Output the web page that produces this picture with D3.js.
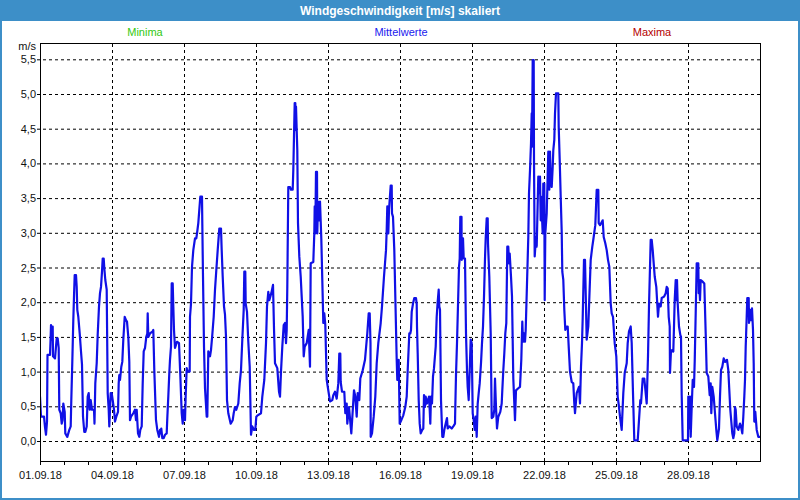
<!DOCTYPE html>
<html><head><meta charset="utf-8">
<script src="https://cdn.jsdelivr.net/npm/d3@7"></script>
<style>html,body{margin:0;padding:0;background:#fff;}svg{display:block}</style>
</head><body>
<svg id="chart" width="800" height="500"></svg>
<script>
// ---------- data ----------
const chartTitle = "Windgeschwindigkeit [m/s] skaliert";
const legendLabels = ["Minima", "Mittelwerte", "Maxima"];
const unitLabel = "m/s";
const yTickValues = [0, 0.5, 1, 1.5, 2, 2.5, 3, 3.5, 4, 4.5, 5, 5.5];
const dateTickLabels = ["01.09.18","04.09.18","07.09.18","10.09.18","13.09.18","16.09.18","19.09.18","22.09.18","25.09.18","28.09.18"];
const seriesStart = "01.09.18";
const seriesHours = 720;
// readings: [hours since 01.09.18 00:00, wind speed m/s]
const period1 = [[0,0.64],[1,0.35],[4,0.35],[5,0.2],[6,0.09],[7,0.28],[7.5,1.24],[10,1.24],[10.5,1.43],[11,1.67],[12,1.46],[12.7,1.65],[13,1.22],[15,1.19],[16.7,1.48],[17.7,1.48],[18.7,1.34],[19.3,0.45],[20.7,0.40],[21.7,0.25],[22.5,0.30],[23.3,0.54],[24.7,0.42],[25.3,0.11],[27.3,0.06],[29.3,0.16],[30.7,0.21],[31.3,0.59],[32.3,1.14],[33.3,1.74],[34,2.08],[34.7,2.39],[36,2.39],[36.7,2.22],[37.3,1.89],[38.3,1.79],[39.7,1.55],[41,1.29],[42,1.10],[43,0.35],[44.3,0.13],[45.3,0.13],[46.7,0.21],[47.7,0.64],[48.7,0.69],[49.7,0.45],[50.7,0.59],[52,0.45],[54,0.45],[54.5,0.25],[55.3,0.83],[56.7,1.12],[57.7,1.53],[59,1.94],[60,2.13],[61,2.22],[62,2.44],[62.7,2.63],[63.7,2.63],[64.3,2.49],[65.3,2.32],[66.7,2.18],[67.7,0.69],[68.7,0.45],[69.3,0.21],[70.7,0.69],[71.7,0.69],[72.7,0.59],[74,0.45],[75,0.28],[76.3,0.35],[78,0.42],[78.7,0.83],[79.3,0.95],[80,0.88],[81.3,1.07],[82.3,1.14],[83.3,1.46],[84.7,1.79],[86,1.74],[87,1.72],[88.3,1.50],[89.3,1.14],[90,0.30],[91,0.35],[93.3,0.40],[95,0.45],[96,0.30],[96.7,0.45],[98,0.11],[99.3,0.06],[100.3,0.16],[101.7,0.21],[102.7,0.83],[103.7,1.29],[105,1.34],[106.3,1.50],[107.3,1.55],[107.7,1.84],[108.3,1.50],[110,1.55],[112.7,1.58],[113.3,1.60],[114.3,1.02],[116,0.30],[117.3,0.16],[119,0.06],[120,0.16]];
const period2 = [[120.7,0.11],[121.3,0.18],[122.3,0.04],[123.7,0.04],[125,0.09],[126.7,0.11],[127.3,0.33],[128.3,0.64],[129.3,0.98],[130,1.17],[131,1.36],[131.7,2.27],[132.7,2.27],[133.3,1.94],[134,1.60],[135,1.34],[137,1.43],[139,1.41],[140.3,0.95],[141.7,0.40],[142.7,0.25],[143.7,0.45],[145,0.30],[145.7,0.66],[146.7,1.05],[147.7,1.00],[149.7,1.00],[150,1.79],[151,1.98],[152,2.51],[153.3,2.75],[155,2.92],[156.3,2.92],[157,2.99],[158.3,3.14],[159.3,3.33],[160.3,3.52],[162,3.52],[162.3,3.14],[163,2.37],[164,1.36],[165,0.76],[166.7,0.35],[167.3,0.35],[168.3,1.29],[170,1.22],[171,1.31],[172.3,1.53],[173.7,1.79],[175,2.18],[176.3,2.46],[177.7,2.75],[179.3,3.06],[181,3.06],[181.7,2.75],[182.7,2.37],[184,1.94],[185,1.82],[186,1.50],[187,0.59],[188.3,0.40],[190.7,0.25],[192.7,0.30],[193.7,0.40],[195,0.49],[196.3,0.45],[198.3,0.54],[199.7,0.83],[201,1.02],[202.3,1.46],[203.7,1.89],[204.3,2.44],[205.3,2.44],[205.7,1.98],[207,1.86],[208.3,1.43],[209.7,1.07],[211,0.09],[212.3,0.21],[214,0.16],[215.3,0.16],[216.3,0.35],[217.7,0.37],[221,0.40],[222.3,0.64],[224.3,0.88],[226,1.41],[227,1.94],[228.3,2.15],[229.3,2.03],[231.3,2.13],[233,2.25],[234,1.62],[235,1.12],[237.3,1.05],[239,0.71],[240,0.64],[241,1.00],[242.3,1.36],[243.7,1.67],[245,1.70]];
const period3 = [[246,1.41],[246.7,1.60],[247.3,2.22],[248.3,3.66],[250,3.66],[251,3.62],[252.7,3.62],[253.3,3.90],[254,4.39],[254.7,4.87],[255.3,4.87],[255.7,4.48],[256,4.82],[257.3,4.19],[258,3.14],[259.3,2.66],[260.7,2.37],[261.7,2.08],[262.7,1.79],[263.7,1.22],[264.7,1.36],[266.7,1.41],[268.7,1.60],[270,1.07],[270.7,2.56],[273.3,2.58],[274.3,2.99],[274.7,3.38],[275.3,2.99],[276,3.88],[277,3.88],[277.3,2.99],[278,3.45],[279.3,3.18],[280,3.45],[281.3,2.92],[282.7,2.08],[283.3,1.70],[284.3,1.84],[285.3,1.67],[286.7,0.88],[288.3,0.73],[290,0.57],[292.3,0.59],[293.3,0.66],[295,0.71],[296.7,0.61],[298.3,0.83],[299.3,1.26],[300.3,1.26],[300.7,0.85],[302,0.71],[304.3,0.71],[305.3,0.40],[306.7,0.54],[307.3,0.25],[309,0.49],[311.3,0.11],[314,0.73],[315.3,0.64],[316.7,0.35],[317.7,0.69],[319.3,0.59],[320.3,0.90],[322.7,1.02],[325,1.17],[327.3,1.55],[328.7,1.84],[329.7,1.84],[330.5,1.41],[330.7,0.06],[332,0.11],[333.7,0.35],[335.3,0.64],[336.7,1.12],[338.3,1.41],[340.7,1.70],[342,1.94],[344,2.37],[346,2.75],[346.7,3.04],[347.3,3.38],[348.3,2.99],[349,3.33],[350.7,3.68],[351.7,3.68],[352,3.28],[353,3.23],[354.3,2.75],[356.7,1.17],[357.3,0.88],[358.7,1.17],[359.7,0.25],[361.3,0.30],[363.3,0.37],[365.3,0.49],[366.7,0.64],[367.7,1.02],[369.3,1.55]];
const period4 = [[370.3,1.55],[371,1.60],[371.7,1.86],[373,1.98],[374.3,2.06],[376,2.06],[376.7,1.98],[377,1.65],[377.7,1.26],[378.7,0.59],[379.7,0.25],[380.7,0.11],[382.3,0.16],[383.3,0.18],[384,0.66],[385,0.49],[385.7,0.64],[387,0.54],[389,0.64],[389.7,0.45],[390.3,0.25],[391,0.64],[392,0.54],[393,0.93],[394,1.05],[395.7,1.36],[396.7,1.79],[397.7,2.01],[398.7,2.18],[399.3,1.94],[400,1.89],[401,0.59],[402.3,0.06],[403.3,0.06],[404.3,0.16],[405,0.21],[407,0.33],[407.7,0.18],[409.3,0.21],[411.7,0.18],[413.3,0.21],[415,0.25],[415.3,0.49],[416,0.95],[417,1.41],[418,1.96],[419,2.51],[419.7,2.63],[420.3,3.23],[421.5,3.23],[421.7,2.61],[423,2.92],[423.7,2.63],[425,2.63],[426,1.55],[427,1.02],[427.7,0.78],[428.7,0.59],[429.7,1.02],[430.7,1.46],[431.7,1.41],[432.7,0.40],[433.7,0.30],[434.7,0.16],[435.7,0.35],[436.7,0.06],[437.7,0.54],[438.7,0.69],[439.7,0.83],[441,1.12],[442,1.41],[443,1.65],[444,2.08],[445,2.63],[445.7,2.92],[446.7,3.21],[447.7,3.21],[448,2.85],[449.3,2.37],[450.7,1.55],[451.7,0.33],[453.3,0.35],[454.3,0.45],[455,0.90],[456,0.49],[457,0.18],[458.3,0.35],[460.3,0.42],[461.7,0.54],[462.3,0.73],[463.3,1.02],[464.3,1.26],[465.3,1.55],[466.3,1.70],[467.3,2.80],[468.3,2.80],[469,2.56],[469.7,2.70],[471,2.37],[472,2.08],[473.3,0.90],[475,0.30],[476,0.73],[478.3,0.76],[480,0.78],[481.3,1.17],[482.3,1.72],[483,1.43],[484,1.55],[485,1.43],[485.7,1.60],[487,2.27],[488.3,2.94],[489,3.57],[490,3.90],[491,4.29],[491.7,4.72],[492,4.24],[492.7,5.49],[493.7,5.49],[494,4.05]];
const period5 = [[494.7,2.66],[496,2.94],[496.7,2.80],[498.3,3.81],[499.3,3.57],[500,3.81],[500.7,3.18],[501,3.52],[501.7,3.33],[502.7,2.99],[503.3,3.71],[504.3,3.71],[504.7,2.03],[505.3,2.99],[506.7,3.28],[508.3,4.17],[509.3,3.62],[510,4.17],[510.7,3.76],[511.7,3.66],[512.7,3.95],[513.3,4.19],[514.3,4.34],[515,4.72],[516,5.01],[518.3,5.01],[518.7,4.53],[519.7,4.05],[520.7,3.52],[521.7,3.02],[522.3,2.44],[523.3,2.32],[524.3,1.89],[525.3,1.60],[526.7,1.65],[527.7,1.65],[528.7,1.36],[530,1.00],[531.7,0.85],[533.3,0.83],[534.3,0.54],[535,0.40],[536.7,0.69],[539,0.78],[540,0.54],[541,1.07],[542,1.41],[542.7,1.77],[544,2.61],[545,2.61],[546.7,1.46],[548.3,1.65],[550.7,2.61],[552.3,2.80],[553.3,2.90],[555.3,3.11],[556.7,3.62],[558.3,3.62],[558.7,3.14],[560,3.11],[562.7,3.18],[563.7,2.94],[565.3,2.85],[566.7,2.75],[568,2.61],[569.3,2.51],[570.7,1.98],[571.7,1.84],[573,1.79],[574.7,1.41],[576.3,1.22],[577.7,0.64],[579,0.49],[580,0.35],[581.7,0.16],[583.3,0.69],[584.7,0.98],[586.7,1.12],[587.7,1.41],[589,1.58],[590.7,1.65],[591.7,1.41],[593,0.69],[594.3,0.01],[597.7,0.01],[599,0.30],[600.3,0.59],[601,0.54],[602.7,0.90],[604.3,0.90],[606.7,0.54],[608,1.22],[609,1.94],[610.7,2.90],[611.7,2.90],[612.7,2.75],[613.7,2.56],[614.7,2.37],[616.3,2.22],[618,1.79],[619,1.98],[620,1.94]];
const period6 = [[620.7,1.94],[621.7,2.06],[624,2.08],[625.7,2.13],[626.7,2.22],[627.7,2.20],[628.7,1.79],[629.7,1.65],[630,0.98],[631,1.31],[633.3,1.29],[634,1.65],[634.7,2.03],[635.7,2.32],[636.3,2.03],[637,2.32],[637.7,1.98],[639,1.65],[640.3,1.53],[641,1.50],[641.7,0.66],[642.7,0.01],[648,0.01],[648.3,0.64],[649.3,0.18],[650,0.64],[650.7,0.06],[651.7,0.49],[652.7,0.88],[654,0.78],[654.7,1.14],[655.7,1.84],[656.7,2.56],[658.3,2.56],[658.7,2.13],[659,2.32],[660,2.03],[660.7,2.32],[662.3,2.30],[664.3,2.27],[665.7,1.55],[666.7,0.98],[668.3,0.93],[669.7,0.66],[670.7,0.83],[671.3,0.40],[672.3,0.78],[673.7,0.64],[675,0.40],[676.3,0.16],[677.3,0.01],[679,0.18],[680,0.64],[681,1.02],[682.3,1.07],[683.7,1.19],[685,1.14],[687,1.17],[688.3,1.02],[690.3,0.45],[692.3,0.11],[693.3,0.04],[694.3,0.11],[695,0.49],[695.7,0.45],[696.7,0.21],[698.3,0.16],[700,0.25],[701,0.21],[702.3,0.11],[703.3,0.35],[704.3,0.64],[705,0.88],[705.7,1.36],[706.7,1.79],[707.3,2.06],[708.7,2.06],[709,1.70],[710,1.89],[711,1.74],[712,1.91],[713,1.60],[713.7,1.12],[714.3,0.28],[715.3,0.42],[716.7,0.16],[718.3,0.06],[720,0.06]];

// ---------- layout / style ----------
const W = 800, H = 500;
const frameBlue = "#3d8fc8";
const legendColors = ["#33c811", "#2020ee", "#b40000"];
const legendX = [145, 401, 652];
const plot = {left: 40, right: 760, top: 43, bottom: 461};
const font = "'Liberation Sans', Arial, sans-serif";

const svg = d3.select("#chart");
svg.append("rect").attr("x",0).attr("y",0).attr("width",W).attr("height",H).attr("fill","#fff");

// title bar
svg.append("rect").attr("x",0).attr("y",0).attr("width",W).attr("height",21).attr("fill",frameBlue);
svg.append("text").attr("x",W/2).attr("y",10.5).attr("text-anchor","middle").attr("dominant-baseline","central")
  .attr("font-family",font).attr("font-weight","bold").attr("font-size",12).attr("fill","#fff").text(chartTitle);
// outer frame
svg.append("rect").attr("x",1).attr("y",1).attr("width",W-2).attr("height",H-2)
  .attr("fill","none").attr("stroke",frameBlue).attr("stroke-width",2);

// legend
svg.selectAll("text.leg").data(legendLabels).join("text").attr("class","leg")
  .attr("x",(d,i)=>legendX[i]).attr("y",32).attr("text-anchor","middle").attr("dominant-baseline","central")
  .attr("font-family",font).attr("font-size",11).attr("fill",(d,i)=>legendColors[i]).text(d=>d);

// scales
const parseDay = d3.utcParse("%d.%m.%y");
const t0 = parseDay(seriesStart);
const x = d3.scaleUtc().domain([t0, d3.utcHour.offset(t0, seriesHours)]).range([plot.left, plot.right]);
const y = d3.scaleLinear().domain([0, 5.5]).range([441, 59.3]);
const deFmt = d3.formatLocale({decimal:",", thousands:".", grouping:[3], currency:["","€"]}).format(".1f");

// y grid + labels
const yAxis = d3.axisLeft(y).tickValues(yTickValues).tickFormat(deFmt)
  .tickSizeInner(-(plot.right - 37)).tickSizeOuter(0).tickPadding(1);
const gy = svg.append("g").attr("transform","translate(37,0)").call(yAxis);
gy.select(".domain").remove();
gy.selectAll("line").attr("stroke","#000").attr("stroke-dasharray","3,3");
gy.selectAll("text").attr("font-family",font).attr("font-size",11).attr("fill","#111");

// unit label
svg.append("text").attr("x",36).attr("y",46).attr("text-anchor","end").attr("dominant-baseline","central")
  .attr("font-family",font).attr("font-size",11).attr("fill","#111").text(unitLabel);

// x minor ticks (daily)
const days = d3.utcDay.range(t0, d3.utcHour.offset(t0, seriesHours));
const xMinor = d3.axisBottom(x).tickValues(days).tickFormat("").tickSizeInner(4).tickSizeOuter(0);
const gxm = svg.append("g").attr("transform",`translate(0,${plot.bottom})`).call(xMinor);
gxm.select(".domain").remove();
gxm.selectAll("line").attr("stroke","#000");

// x major grid + labels
const majors = dateTickLabels.map(parseDay);
const xMajor = d3.axisBottom(x).tickValues(majors).tickFormat(d3.utcFormat("%d.%m.%y"))
  .tickSizeInner(-(plot.bottom - plot.top)).tickSizeOuter(0).tickPadding(10);
const gx = svg.append("g").attr("transform",`translate(0,${plot.bottom})`).call(xMajor);
gx.select(".domain").remove();
gx.selectAll("line").attr("stroke","#000").attr("stroke-dasharray","3,3");
gx.selectAll("text").attr("font-family",font).attr("font-size",11).attr("fill","#111");

// plot box
svg.append("rect").attr("x",plot.left+0.5).attr("y",plot.top+0.5)
  .attr("width",plot.right-plot.left).attr("height",plot.bottom-plot.top)
  .attr("fill","none").attr("stroke","#000").attr("stroke-width",1);

// series
const readings = [].concat(period1, period2, period3, period4, period5, period6);
svg.append("clipPath").attr("id","clip").append("rect")
  .attr("x",plot.left+1).attr("y",plot.top+1).attr("width",plot.right-plot.left-1).attr("height",plot.bottom-plot.top-1);
const line = d3.line().x(d => x(d3.utcMinute.offset(t0, Math.round(d[0]*60)))).y(d => y(d[1]));
svg.append("path").datum(readings).attr("clip-path","url(#clip)")
  .attr("fill","none").attr("stroke","#1010e6").attr("stroke-width",2.2).attr("stroke-linejoin","round")
  .attr("d", line);
</script>
</body></html>
